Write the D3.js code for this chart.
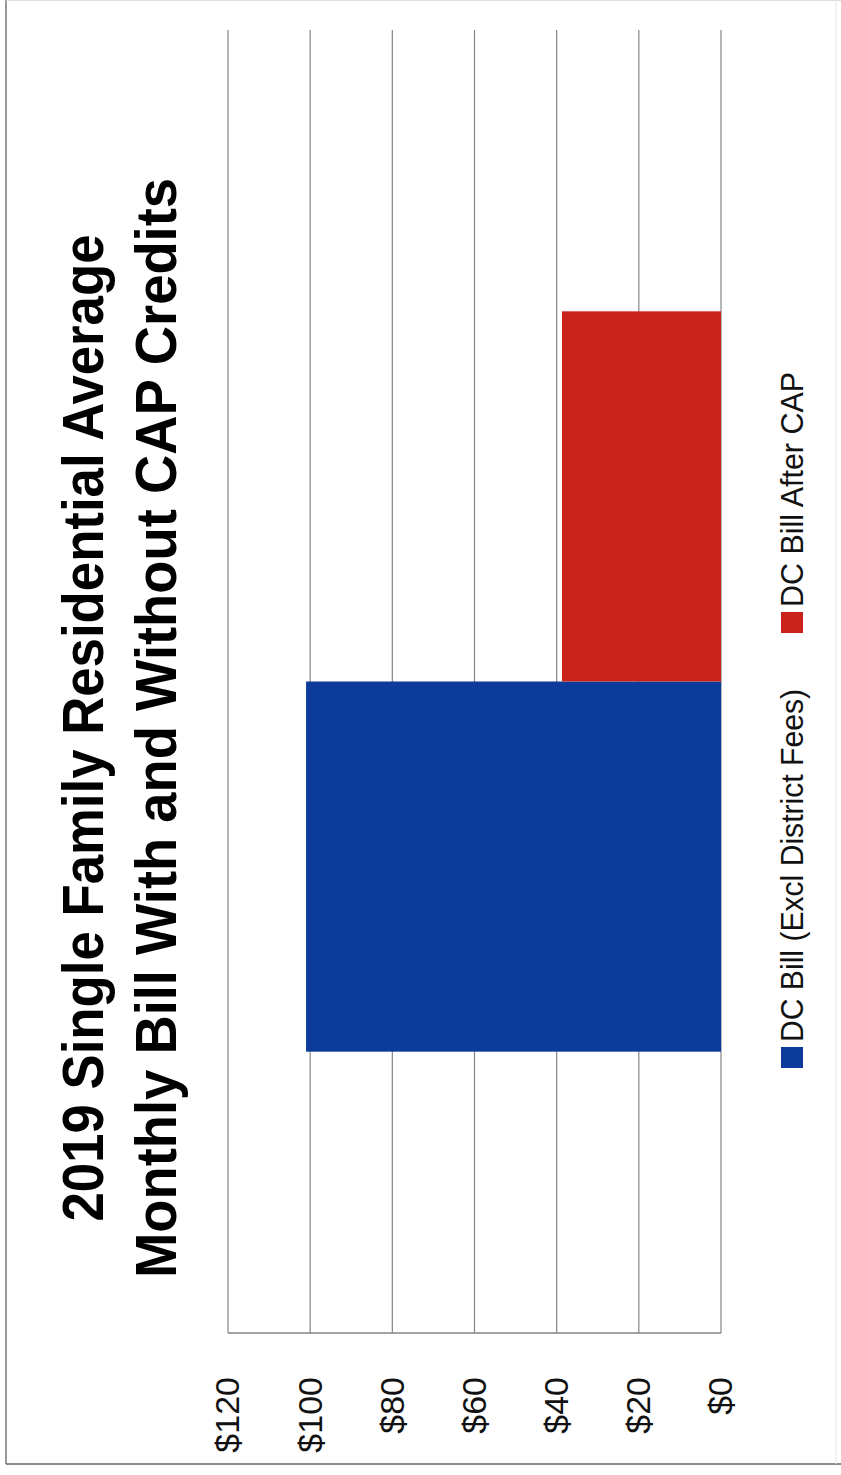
<!DOCTYPE html>
<html>
<head>
<meta charset="utf-8">
<script src="https://cdn.jsdelivr.net/npm/d3@7"></script>
<style>
  html, body { margin: 0; padding: 0; background: #fff; }
  svg { display: block; }
  text { font-family: "Liberation Sans Narrow", "Arial Narrow", "Liberation Sans", Arial, sans-serif; }
</style>
</head>
<body>
<script>
// ---- data ----
const categories = [""];
const seriesNames = ["DC Bill (Excl District Fees)", "DC Bill After CAP"];
const seriesValues = [101.0, 38.7];
const seriesColors = ["#0c3b9c", "#c9231b"];
const tickValues = [0, 20, 40, 60, 80, 100, 120];
const tickLabels = ["$0", "$20", "$40", "$60", "$80", "$100", "$120"];
const titleLines = ["2019 Single Family Residential Average", "Monthly Bill With and Without CAP Credits"];

const W = 841, H = 1475;
const svg = d3.select("body").append("svg").attr("width", W).attr("height", H);

// outer frame
svg.append("line").attr("x1", 6).attr("x2", 6).attr("y1", 0).attr("y2", 1464).attr("stroke", "#777").attr("stroke-width", 1.5);
svg.append("line").attr("x1", 6).attr("x2", W).attr("y1", 1464).attr("y2", 1464).attr("stroke", "#666").attr("stroke-width", 1.5);
svg.append("line").attr("x1", 6).attr("x2", W).attr("y1", 0.5).attr("y2", 0.5).attr("stroke", "#ddd").attr("stroke-width", 1);
svg.append("line").attr("x1", 836).attr("x2", 836).attr("y1", 0).attr("y2", 1464).attr("stroke", "#e6e6e6").attr("stroke-width", 1);

// rotated chart group: local (u,v) -> page (v, H-u)
const g = svg.append("g").attr("transform", `translate(0,${H}) rotate(-90)`);

const y = d3.scaleLinear().domain([0, 120]).range([721, 228]);
const x0 = d3.scaleBand().domain(categories).range([142, 1445]).paddingInner(0).paddingOuter(0.38);
const x1 = d3.scaleBand().domain(seriesNames).range([0, x0.bandwidth()]).padding(0);

// gridlines
g.append("g").selectAll("line").data(tickValues).join("line")
  .attr("x1", 142).attr("x2", 1445)
  .attr("y1", d => y(d)).attr("y2", d => y(d))
  .attr("stroke", "#858585").attr("stroke-width", 1.2);

// category axis line
g.append("line").attr("x1", 142).attr("x2", 142).attr("y1", y(0)).attr("y2", y(120))
  .attr("stroke", "#858585").attr("stroke-width", 1.5);

// value axis labels
const axis = d3.axisLeft(y).tickValues(tickValues).tickSize(0).tickPadding(0)
  .tickFormat((d, i) => tickLabels[tickValues.indexOf(d)]);
const ax = g.append("g").attr("transform", "translate(98,0)").call(axis);
ax.select(".domain").remove();
ax.selectAll("text").attr("font-size", 34).attr("fill", "#111").attr("font-family", null);

// bars
const cat = g.append("g").selectAll("g").data(categories).join("g")
  .attr("transform", d => `translate(${x0(d)},0)`);
cat.selectAll("rect").data(seriesNames.map((n, i) => ({ name: n, value: seriesValues[i], color: seriesColors[i] })))
  .join("rect")
  .attr("x", d => x1(d.name))
  .attr("width", x1.bandwidth())
  .attr("y", d => y(d.value))
  .attr("height", d => y(0) - y(d.value))
  .attr("fill", d => d.color);

// title
const titleLens = [987, 1100];
g.append("g").selectAll("text").data(titleLines).join("text")
  .attr("x", 747)
  .attr("y", (d, i) => 103 + i * 73)
  .attr("text-anchor", "middle")
  .attr("font-size", 58)
  .attr("font-weight", "bold")
  .attr("fill", "#000")
  .attr("textLength", (d, i) => titleLens[i])
  .attr("lengthAdjust", "spacingAndGlyphs")
  .text(d => d);

// legend
const legendX = [407, 842];
const legendLens = [353, 235];
const leg = g.append("g").selectAll("g").data(seriesNames).join("g")
  .attr("transform", (d, i) => `translate(${legendX[i]},781)`);
leg.append("rect").attr("width", 21).attr("height", 22).attr("fill", (d, i) => seriesColors[i]);
leg.append("text").attr("x", 26).attr("y", 11).attr("dy", "0.36em")
  .attr("font-size", 31).attr("fill", "#111")
  .attr("textLength", (d, i) => legendLens[i])
  .attr("lengthAdjust", "spacingAndGlyphs")
  .text(d => d);
</script>
</body>
</html>
